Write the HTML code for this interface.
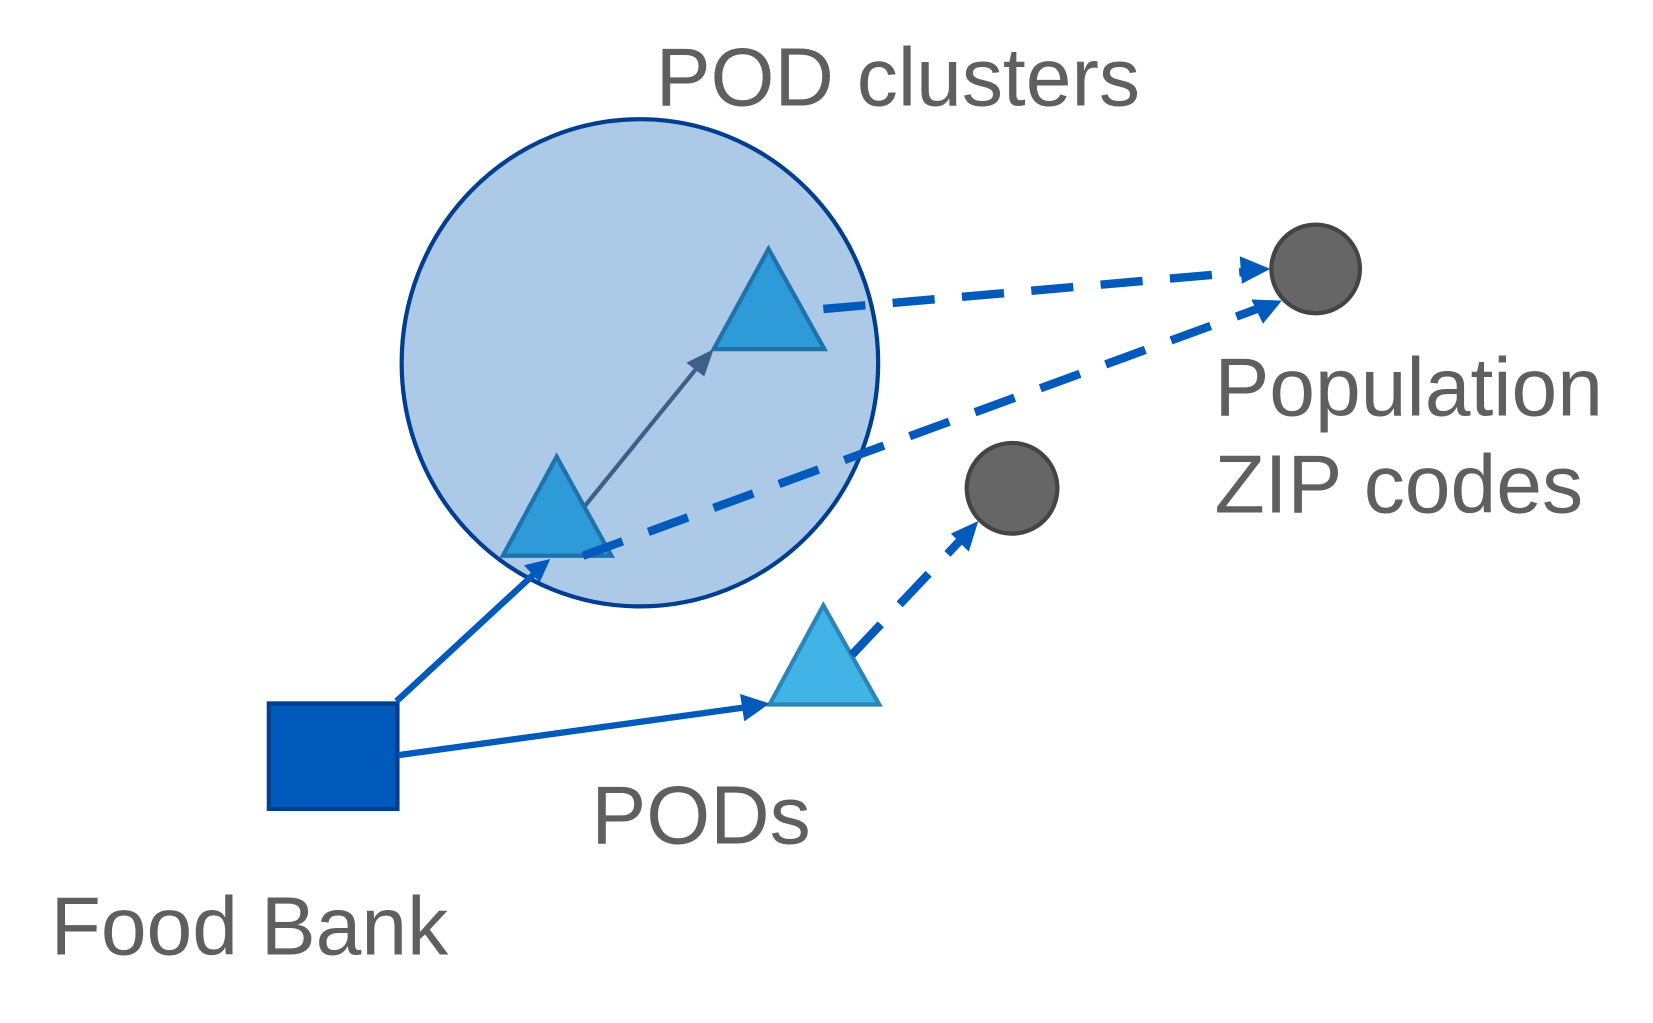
<!DOCTYPE html>
<html><head><meta charset="utf-8"><style>
html,body{margin:0;padding:0;background:#fff;}
svg{display:block}
text{font-family:"Liberation Sans",sans-serif;fill:#5f5f5f;font-size:78px}
</style></head><body>
<svg width="1653" height="1023" viewBox="0 0 1568 970" preserveAspectRatio="none">
<ellipse cx="607" cy="344" rx="226" ry="231" fill="#adc9e8" stroke="#003f8f" stroke-width="4"/>
<text x="622" y="100">POD clusters</text>
<text x="1152" y="394">Population</text>
<text x="1152" y="486">ZIP codes</text>
<text x="561" y="800">PODs</text>
<text x="48" y="905">Food Bank</text>
<line x1="553" y1="482" x2="665" y2="344" stroke="#3d6088" stroke-width="4"/>
<polygon points="677,331 651,344 668,357" fill="#3d6088"/>
<polygon points="729,236 677,331 782,331" fill="#2e9ad8" stroke="#1f73ab" stroke-width="4"/>
<polygon points="528,433 477,527 580,527" fill="#2e9ad8" stroke="#1f73ab" stroke-width="4"/>
<polygon points="781,574 730,668 834,668" fill="#41b3e6" stroke="#2a86b6" stroke-width="4"/>
<circle cx="1248" cy="255" r="42" fill="#666" stroke="#444" stroke-width="4"/>
<circle cx="960" cy="463" r="43" fill="#666" stroke="#444" stroke-width="4"/>
<rect x="255" y="667" width="122" height="100" fill="#005abb" stroke="#003f8f" stroke-width="4"/>
<line x1="376" y1="665" x2="508" y2="543" stroke="#005abb" stroke-width="6"/>
<polygon points="522,530 497,536 512,552" fill="#005abb"/>
<line x1="378" y1="716" x2="712" y2="670" stroke="#005abb" stroke-width="6"/>
<polygon points="730,667 702,658 706,684" fill="#005abb"/>
<g stroke="#005abb" stroke-width="8" fill="none" stroke-dasharray="40,26">
<line x1="781" y1="293" x2="1180" y2="258"/>
<line x1="553" y1="527" x2="1195" y2="292"/>
<line x1="808" y1="621" x2="915" y2="508"/>
</g>
<polygon points="1205,255 1176,243 1178,269" fill="#005abb"/>
<polygon points="1216,285 1187,284 1198,307" fill="#005abb"/>
<polygon points="928,494 902,506 919,523" fill="#005abb"/>
</svg>
</body></html>
